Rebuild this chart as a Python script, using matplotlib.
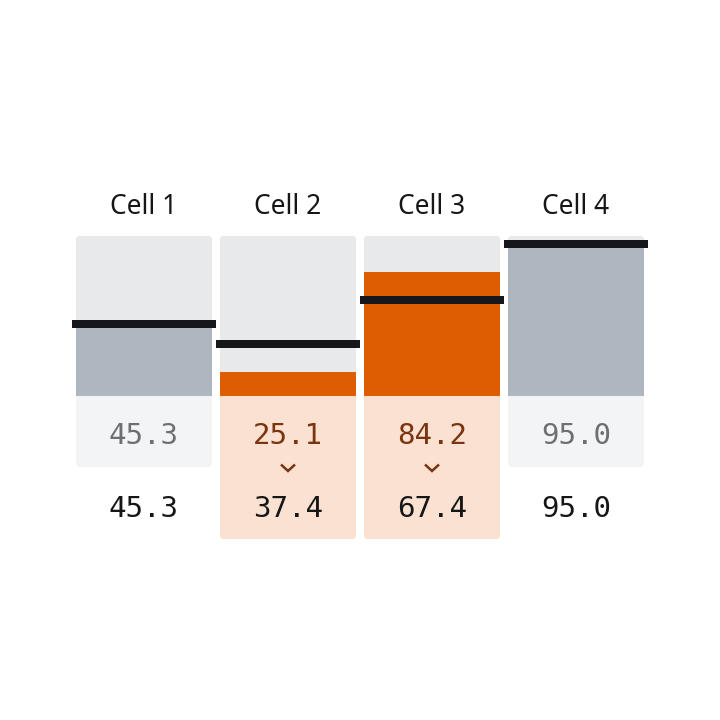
import matplotlib
matplotlib.use("Agg")
import matplotlib.pyplot as plt
from matplotlib.patches import FancyBboxPatch, Rectangle
from matplotlib.lines import Line2D

# ---- data ----
cells = ["Cell 1", "Cell 2", "Cell 3", "Cell 4"]
before = [45.3, 25.1, 84.2, 95.0]
after = [45.3, 37.4, 67.4, 95.0]
bar_fill = [45.3, 15.0, 77.5, 95.0]
marker = [45.3, 32.5, 60.0, 95.0]

# ---- styles ----
W = H = 720
C_BG = "#e8e9eb"
C_GRAY = "#aeb6c0"
C_ORANGE = "#de5d00"
C_MARK = "#15171a"
C_PANEL = "#f3f4f6"
C_PEACH = "#fae1d1"
C_TXT = "#161616"
C_TXT_GRAY = "#6f6f6f"
C_TXT_BROWN = "#7a3510"

fig = plt.figure(figsize=(7.2, 7.2), dpi=100)
fig.patch.set_facecolor("white")


def fx(px):
    return px / W


def fy(py):
    return 1 - py / H


col_left0 = 76
pitch = 144
col_w = 136
bar_top = 236
bar_bot = 396
panel_bot_plain = 467
panel_bot_changed = 539
r = 4

for i, name in enumerate(cells):
    changed = before[i] != after[i]
    left = col_left0 + pitch * i
    cx = left + col_w / 2
    pb = panel_bot_changed if changed else panel_bot_plain
    pcol = C_PEACH if changed else C_PANEL

    # panel (whole cell, rounded)
    fig.add_artist(FancyBboxPatch((fx(left), fy(pb)), col_w / W, (pb - bar_top) / H,
                                  boxstyle=f"round,pad=0,rounding_size={r / W}",
                                  transform=fig.transFigure, fc=pcol, ec="none", zorder=-3))
    # bar background (rounded top)
    fig.add_artist(FancyBboxPatch((fx(left), fy(bar_bot + 2 * r)), col_w / W, (bar_bot + 2 * r - bar_top) / H,
                                  boxstyle=f"round,pad=0,rounding_size={r / W}",
                                  transform=fig.transFigure, fc=C_BG, ec="none", zorder=-2))
    fig.add_artist(Rectangle((fx(left), fy(bar_bot + 2 * r + 1)), col_w / W, (2 * r + 1) / H,
                             transform=fig.transFigure, fc=pcol, ec="none", zorder=-1.5))

    ax = fig.add_axes([fx(left), fy(bar_bot), col_w / W, (bar_bot - bar_top) / H])
    ax.set_xlim(0, 1)
    ax.set_ylim(0, 100)
    ax.patch.set_alpha(0)
    ax.axis("off")
    ax.bar(0.5, bar_fill[i], width=1.0, color=C_ORANGE if changed else C_GRAY, linewidth=0)
    ext = 4 / col_w
    ax.plot([-ext, 1 + ext], [marker[i], marker[i]], color=C_MARK, lw=8 * 72 / 100,
            solid_capstyle="butt", clip_on=False, zorder=5)

    fig.text(fx(cx), fy(214), name, ha="center", va="baseline", fontsize=19,
             family=["Noto Sans", "DejaVu Sans"], color=C_TXT)
    fig.text(fx(cx), fy(444), f"{before[i]:.1f}", ha="center", va="baseline", fontsize=21,
             family="DejaVu Sans Mono", color=C_TXT_BROWN if changed else C_TXT_GRAY)
    fig.text(fx(cx), fy(517), f"{after[i]:.1f}", ha="center", va="baseline", fontsize=21,
             family="DejaVu Sans Mono", color=C_TXT)
    if changed:
        fig.add_artist(Line2D([fx(cx - 7), fx(cx), fx(cx + 7)], [fy(464.5), fy(471), fy(464.5)],
                              transform=fig.transFigure, color=C_TXT_BROWN, lw=1.8,
                              solid_capstyle="butt", solid_joinstyle="miter"))

fig.savefig("out.png", dpi=100, facecolor="white")
